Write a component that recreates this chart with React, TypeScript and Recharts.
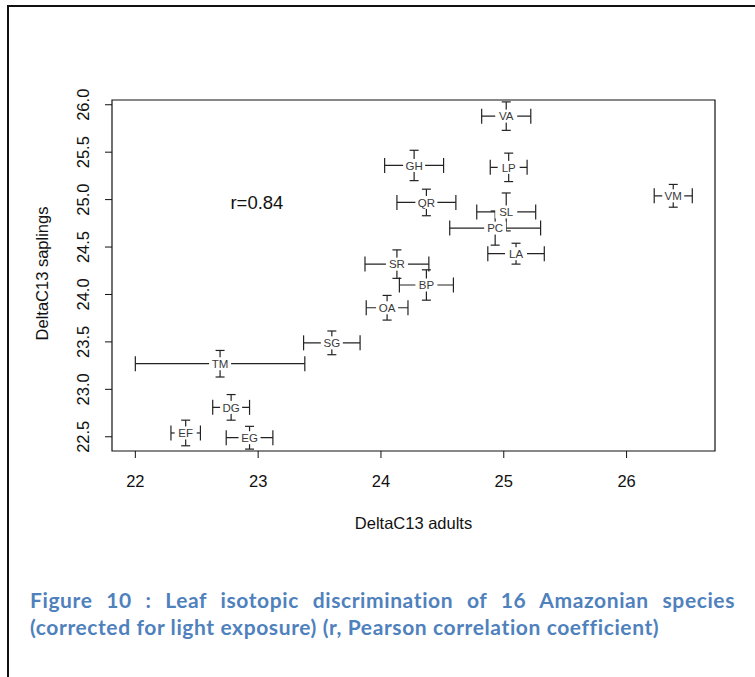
import React from 'react';
import { ScatterChart, Scatter, XAxis, YAxis, ErrorBar, ReferenceArea, Label } from 'recharts';

const species = ['VA', 'LP', 'VM', 'GH', 'QR', 'SL', 'PC', 'LA', 'SR', 'BP', 'OA', 'SG', 'TM', 'DG', 'EF', 'EG'];
const adults = [25.02, 25.04, 26.38, 24.27, 24.37, 25.02, 24.93, 25.10, 24.13, 24.37, 24.05, 23.60, 22.69, 22.78, 22.41, 22.93];
const saplings = [25.88, 25.34, 25.04, 25.36, 24.97, 24.87, 24.70, 24.43, 24.32, 24.10, 23.86, 23.49, 23.27, 22.81, 22.54, 22.49];
const adultsErr = [0.20, 0.15, 0.155, 0.24, 0.24, 0.24, 0.37, 0.23, 0.26, 0.22, 0.17, 0.23, 0.69, 0.15, 0.12, 0.19];
const saplingsErr = [0.15, 0.15, 0.12, 0.16, 0.14, 0.20, 0.18, 0.11, 0.15, 0.16, 0.13, 0.125, 0.14, 0.135, 0.135, 0.12];

const xTicks = [22, 23, 24, 25, 26];
const yTicks = [22.5, 23.0, 23.5, 24.0, 24.5, 25.0, 25.5, 26.0];
const xDomain = [21.81, 26.72];
const yDomain = [22.35, 26.05];

const annotation = [{ x: 22.99, y: 24.98, text: 'r=0.84' }];

const points = species.map((name, i) => ({
  name,
  x: adults[i],
  y: saplings[i],
  ex: adultsErr[i],
  ey: saplingsErr[i],
}));

const FONT = '"Liberation Sans", Arial, sans-serif';

const LabelShape = (props: any) => {
  const { cx, cy, payload } = props;
  return (
    <g>
      <rect x={cx - 11} y={cy - 6.5} width={22} height={13} fill="#ffffff" />
      <text x={cx} y={cy + 4.2} textAnchor="middle" fontSize={11.5} fill="#3a3a3a" fontFamily={FONT}>
        {payload.name}
      </text>
    </g>
  );
};

const AnnotShape = (props: any) => {
  const { cx, cy, payload } = props;
  return (
    <text x={cx} y={cy + 7} textAnchor="middle" fontSize={18.5} fill="#111" fontFamily={FONT}>
      {payload.text}
    </text>
  );
};

const XTick = (props: any) => {
  const { x, y, payload } = props;
  return (
    <text x={x} y={y + 29} textAnchor="middle" fontSize={16.5} fill="#111" fontFamily={FONT}>
      {payload.value}
    </text>
  );
};

const YTick = (props: any) => {
  const { x, y, payload } = props;
  const bx = x - 16;
  return (
    <text
      x={bx}
      y={y}
      transform={`rotate(-90 ${bx} ${y})`}
      textAnchor="middle"
      fontSize={16.5}
      fill="#111"
      fontFamily={FONT}
    >
      {Number(payload.value).toFixed(1)}
    </text>
  );
};

const XTitle = (props: any) => {
  const vb = props.viewBox;
  return (
    <text x={vb.x + vb.width / 2} y={vb.y + 78} textAnchor="middle" fontSize={16.5} fill="#111" fontFamily={FONT}>
      DeltaC13 adults
    </text>
  );
};

const YTitle = (props: any) => {
  const vb = props.viewBox;
  const cx = vb.x - 4;
  const cy = vb.y + vb.height / 2 - 2;
  return (
    <text x={cx} y={cy} transform={`rotate(-90 ${cx} ${cy})`} textAnchor="middle" fontSize={16.5} fill="#111" fontFamily={FONT}>
      DeltaC13 saplings
    </text>
  );
};

export default function App() {
  return (
    <div style={{ position: 'absolute', left: 0, top: 0, width: 755, height: 677, overflow: 'hidden', background: '#fff' }}>
      <div
        style={{
          position: 'absolute',
          left: 7,
          top: 5,
          width: 800,
          height: 800,
          borderTop: '2px solid #111',
          borderLeft: '2px solid #111',
        }}
      />
      <div style={{ position: 'absolute', left: 0, top: 0 }}>
        <ScatterChart width={755} height={677} margin={{ top: 100, right: 40, left: 52, bottom: 166 }}>
          <XAxis
            type="number"
            dataKey="x"
            domain={xDomain}
            ticks={xTicks}
            allowDataOverflow
            axisLine={false}
            tickLine={{ stroke: '#111' }}
            tickSize={7}
            tickMargin={0}
            tick={<XTick />}
            height={60}
            interval={0}
          >
            <Label content={<XTitle />} />
          </XAxis>
          <YAxis
            type="number"
            dataKey="y"
            domain={yDomain}
            ticks={yTicks}
            allowDataOverflow
            axisLine={false}
            tickLine={{ stroke: '#111' }}
            tickSize={7}
            tickMargin={0}
            tick={<YTick />}
            width={60}
            interval={0}
          >
            <Label content={<YTitle />} />
          </YAxis>
          <ReferenceArea
            x1={xDomain[0]}
            x2={xDomain[1]}
            y1={yDomain[0]}
            y2={yDomain[1]}
            fill="none"
            fillOpacity={0}
            stroke="#111"
            strokeWidth={1.2}
          />
          <Scatter data={points} shape={<LabelShape />} isAnimationActive={false}>
            <ErrorBar dataKey="ex" direction="x" width={7.5} stroke="#222" strokeWidth={1.2} isAnimationActive={false} />
            <ErrorBar dataKey="ey" direction="y" width={4.5} stroke="#222" strokeWidth={1.2} isAnimationActive={false} />
          </Scatter>
          <Scatter data={annotation} shape={<AnnotShape />} isAnimationActive={false} />
        </ScatterChart>
      </div>
      <div
        style={{
          position: 'absolute',
          left: 30,
          top: 586,
          width: 705,
          fontFamily: 'Lato, "Noto Sans", sans-serif',
          fontWeight: 700,
          fontSize: 21,
          letterSpacing: '0.6px',
          lineHeight: '27px',
          color: '#4F81BD',
        }}
      >
        <div style={{ textAlign: 'justify', textAlignLast: 'justify', whiteSpace: 'nowrap' as any }}>
          Figure 10 : Leaf isotopic discrimination of 16 Amazonian species
        </div>
        <div>(corrected for light exposure) (r, Pearson correlation coefficient)</div>
      </div>
    </div>
  );
}
